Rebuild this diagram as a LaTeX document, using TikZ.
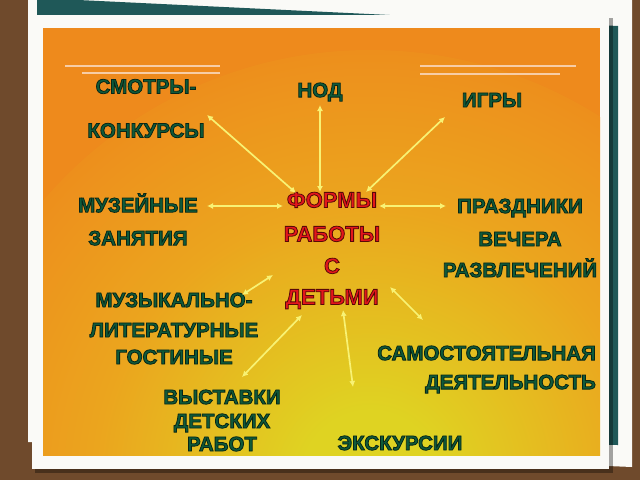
\documentclass[tikz,border=0pt]{standalone}
\usepackage{fontspec}
\setmainfont{Liberation Sans}
\usetikzlibrary{arrows.meta}
\definecolor{bgbrown}{HTML}{6F4A2C}
\definecolor{sheetteal}{HTML}{1F5858}
\definecolor{paper}{HTML}{FAFAF7}
\definecolor{orangeout}{HTML}{EE8A1C}
\definecolor{orangemid}{HTML}{EBA51E}
\definecolor{yellowin}{HTML}{DFD322}
\definecolor{txtgreen}{HTML}{0F5A3A}
\definecolor{txtred}{HTML}{E3161B}
\definecolor{arrowyellow}{HTML}{F8F274}
\definecolor{peach}{HTML}{F7CDA6}
\pgfdeclareradialshading{bgshade}{\pgfpoint{0bp}{0bp}}{%
  color(0bp)=(yellowin); color(4bp)=(yellowin); color(16bp)=(orangemid);
  color(27bp)=(orangeout); color(50bp)=(orangeout)}
% outlined text: fill + dark stroke
\newcommand\glab[5]{%
  \node[#3] (#1) at (#2) {\special{pdf:literal direct 2 Tr 0.8 w #4 RG}#5\special{pdf:literal direct 0 Tr}};
}
\begin{document}
\begin{tikzpicture}[x=1pt,y=-1pt,
  lbl/.style={inner sep=0pt, align=center, text=txtgreen,
    font=\fontsize{20.5}{23}\selectfont\bfseries},
  redlbl/.style={lbl, text=txtred, font=\fontsize{22}{25}\selectfont\bfseries},
  conn/.style={draw=arrowyellow, line width=1.7pt,
    arrows={Latex[length=6pt,width=6pt]-Latex[length=6pt,width=6pt]}},
  deco/.style={draw=peach, line width=1.6pt}]
\useasboundingbox (0,0) rectangle (640,480);
\fill[bgbrown] (0,0) rectangle (640,480);
% back sheets
\fill[paper] (28,0) -- (632,0) -- (632,467) -- (28,442) -- cycle;
\fill[sheetteal] (37,-2) -- (618,26) -- (618,445) -- (37,440) -- cycle;
% main frame with shadow
\fill[black, opacity=0.35] (35,18) rectangle (613,473);
\fill[paper] (32,15) rectangle (609,469);
\begin{scope}
  \clip (43,28) rectangle (600,455);
  \fill[orangeout] (43,28) rectangle (600,455);
  \shade[shading=bgshade] (370,480) circle (430);
\end{scope}
% decorative lines
\draw[deco] (65,66) -- (220,66);
\draw[deco] (82,73) -- (220,73);
\draw[deco] (420,66) -- (576,66);
\draw[deco] (420,74) -- (560,74);
% labels
\glab{smotr}{146,108.5}{lbl}{0.03 0.15 0.09}{СМОТРЫ-\\[21pt]КОНКУРСЫ}
\glab{nod}{320,92}{lbl}{0.03 0.15 0.09}{НОД}
\glab{igry}{492,100}{lbl}{0.03 0.15 0.09}{ИГРЫ}
\glab{muz}{138,219.5}{lbl}{0.03 0.15 0.09}{МУЗЕЙНЫЕ\\[10pt]ЗАНЯТИЯ}
\glab{prazd}{520,238}{lbl}{0.03 0.15 0.09}{ПРАЗДНИКИ\\[10pt]ВЕЧЕРА\\[8pt]РАЗВЛЕЧЕНИЙ}
\glab{music}{174,328.5}{lbl}{0.03 0.15 0.09}{МУЗЫКАЛЬНО-\\[7pt]ЛИТЕРАТУРНЫЕ\\[4pt]ГОСТИНЫЕ}
\glab{samo}{596,369.5}{lbl, anchor=east, align=right}{0.03 0.15 0.09}{САМОСТОЯТЕЛЬНАЯ\\[6pt]ДЕЯТЕЛЬНОСТЬ}
\glab{vyst}{222,420.5}{lbl}{0.03 0.15 0.09}{ВЫСТАВКИ\\[1pt]ДЕТСКИХ\\[0pt]РАБОТ}
\glab{ekskurs}{400,443}{lbl}{0.03 0.15 0.09}{ЭКСКУРСИИ}
\glab{forms}{332,250.5}{redlbl}{0.35 0.03 0.03}{ФОРМЫ\\[9pt]РАБОТЫ\\[7pt]С\\[6pt]ДЕТЬМИ}
% connector end points
\coordinate (a1o) at (207,115); \coordinate (a1i) at (296,193);
\coordinate (a2o) at (320,105); \coordinate (a2i) at (320,192);
\coordinate (a3o) at (445,117); \coordinate (a3i) at (366,192);
\coordinate (a4o) at (207,206); \coordinate (a4i) at (283,206);
\coordinate (a5o) at (446,206); \coordinate (a5i) at (379,206);
\coordinate (a6o) at (242,295); \coordinate (a6i) at (273,275);
\coordinate (a7o) at (242,377); \coordinate (a7i) at (302,315);
\coordinate (a8o) at (353,387); \coordinate (a8i) at (343,310);
\coordinate (a9o) at (423,320); \coordinate (a9i) at (390,287);
\draw[conn] (a1i) -- (a1o);
\draw[conn] (a2i) -- (a2o);
\draw[conn] (a3i) -- (a3o);
\draw[conn] (a4i) -- (a4o);
\draw[conn] (a5i) -- (a5o);
\draw[conn] (a6i) -- (a6o);
\draw[conn] (a7i) -- (a7o);
\draw[conn] (a8i) -- (a8o);
\draw[conn] (a9i) -- (a9o);
\end{tikzpicture}
\end{document}
